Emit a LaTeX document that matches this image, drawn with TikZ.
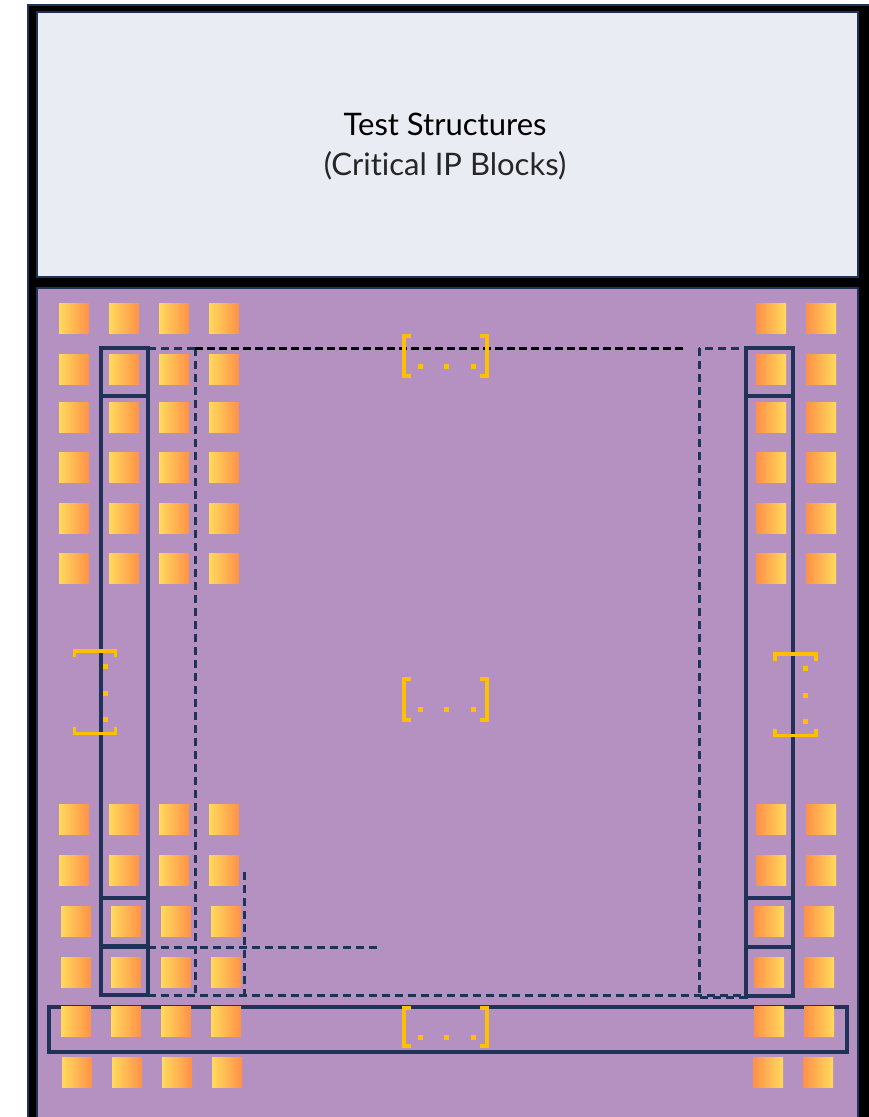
\documentclass[tikz,border=0pt]{standalone}
\usepackage{fontspec}
\setmainfont{Lato}[Ligatures=NoCommon]
\definecolor{navy}{HTML}{1F3358}
\definecolor{chipgray}{HTML}{E9ECF2}
\definecolor{chippurple}{HTML}{B491C0}
\definecolor{brk}{HTML}{FFC000}
\definecolor{padY}{HTML}{FFDA5C}
\definecolor{padO}{HTML}{FF9148}
\definecolor{txtgray}{HTML}{262626}
\tikzset{
  solidbox/.style={draw=navy, line width=3.2pt},
  dashline/.style={draw=navy, line width=3pt, dash pattern=on 8pt off 5pt},
  blackdash/.style={draw=black, line width=3pt, dash pattern=on 8pt off 4pt},
  padL/.style={left color=padY, right color=padO},
  padR/.style={left color=padO, right color=padY},
  bracket/.style={draw=brk, line width=3.8pt},
  bdot/.style={fill=brk},
}
\begin{document}
\begin{tikzpicture}[x=1pt,y=-1pt]
\useasboundingbox (0,0) rectangle (869,1117);
\clip (0,0) rectangle (869,1117);
% frame
\fill[black] (27,4) rectangle (880,1130);
\draw[navy, line width=1.5pt] (27.75,4.75) rectangle (880,1130);
\filldraw[fill=chipgray, draw=navy, line width=1.5pt] (37,12) rectangle (858,277);
\filldraw[fill=chippurple, draw=navy, line width=1.5pt] (37,288) rectangle (858,1130);
% title
\node[font=\fontsize{31}{33}\selectfont, text=black] (title) at (445,124) {Test Structures};
\node[font=\fontsize{31}{33}\selectfont, text=txtgray] (subtitle) at (445,166) {(Critical IP Blocks)};
% dashed regions
\path[dashline] (148,348) -- (148,995);
\path[dashline] (148,348) -- (195,348);
\path[dashline] (195,348) -- (195,995);
\path[dashline] (148,995) -- (746,995);
\path[dashline] (699,348) rectangle (746,997);
\path[dashline] (244,872) -- (244,995);
\path[dashline] (148,947) -- (379,947);
\path[blackdash] (195,348) -- (684,348);
% solid boxes
\path[solidbox] (101,348) rectangle (148,995);
\path[solidbox] (101,348) rectangle (148,396);
\path[solidbox] (101,898) rectangle (148,946);
\path[solidbox] (101,947) rectangle (148,995);
\path[solidbox] (746,348) rectangle (793,996);
\path[solidbox] (746,348) rectangle (793,396);
\path[solidbox] (746,898) rectangle (793,947);
\path[solidbox] (746,947) rectangle (793,996);
\path[solidbox] (49,1007) rectangle (847,1052);
% pads left
\foreach \y in {303,354,402,452,503,553,804,855}{
  \foreach \x in {59,109,159,209}{
    \path[padL] (\x,\y) rectangle ++(30,30);
  }
}
\foreach \y in {906,957,1006}{
  \foreach \x in {61,111,161,211}{
    \path[padL] (\x,\y) rectangle ++(30,30);
  }
}
\foreach \x in {62,112,162,212}{
  \path[padL] (\x,1057) rectangle ++(30,30);
}
% pads right
\foreach \y in {303,354,402,452,503,553,804,855}{
  \foreach \x in {756,806}{
    \path[padR] (\x,\y) rectangle ++(30,30);
  }
}
\foreach \y in {906,957,1006}{
  \foreach \x in {754,804}{
    \path[padR] (\x,\y) rectangle ++(30,30);
  }
}
\foreach \x in {753,803}{
  \path[padR] (\x,1057) rectangle ++(30,30);
}
% horizontal brackets
\foreach \ya/\yb/\yd in {336/376/366, 679/720/709, 1008/1046/1037}{
  \path[bracket] (411,\ya) -- (404,\ya) -- (404,\yb) -- (411,\yb);
  \path[bracket] (480,\ya) -- (487,\ya) -- (487,\yb) -- (480,\yb);
  \foreach \xd in {420,446,473}{
    \path[bdot] (\xd-2.5,\yd-2.5) rectangle ++(5,5);
  }
}
% vertical brackets
\path[bracket] (74.5,657) -- (74.5,651) -- (115.5,651) -- (115.5,657);
\path[bracket] (74.5,727) -- (74.5,733.5) -- (115.5,733.5) -- (115.5,727);
\foreach \yd in {666,693,719}{\path[bdot] (102.5,\yd-2.5) rectangle ++(5,5);}
\path[bracket] (775,661) -- (775,654) -- (816,654) -- (816,661);
\path[bracket] (775,729) -- (775,735.5) -- (816,735.5) -- (816,729);
\foreach \yd in {668,695,721}{\path[bdot] (802.5,\yd-2.5) rectangle ++(5,5);}
\end{tikzpicture}
\end{document}
